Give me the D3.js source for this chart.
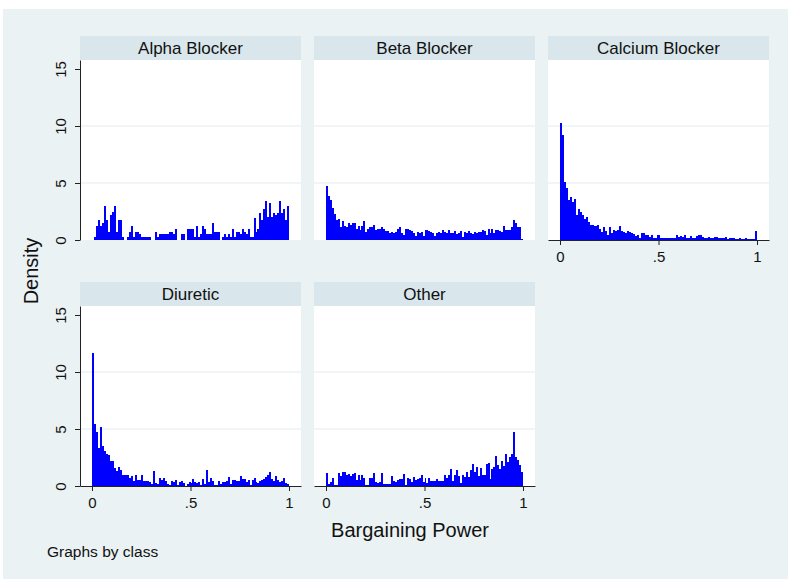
<!DOCTYPE html>
<html>
<head>
<meta charset="utf-8">
<script src="https://cdn.jsdelivr.net/npm/d3@7"></script>
<style>
  body { margin: 0; background: #fff; }
  svg text { font-family: "Liberation Sans", Arial, sans-serif; fill: #111; }
</style>
</head>
<body>
<svg id="chart" width="788" height="579"></svg>
<script>
// histogram densities, 100 bins of width .01 on [0,1]
var classes = ['Alpha Blocker', 'Beta Blocker', 'Calcium Blocker', 'Diuretic', 'Other'];

var alphaDensity = [0,
  0.25,1.2,1.75,1.2,1.5,3.0,1.75,0.7,2.2,2.5,3.0,0.7,1.75,1.75,0.25,
  0,0,
  0.25,0.7,1.2,0.3,0.7,0.7,0.5,0.25,0.25,0.25,0.25,0.25,
  0,0,
  0.7,0.25,0.5,0.5,0.5,0.5,0.5,0.7,0.7,0.5,0.95,
  0,0,
  0.5,0.5,
  0,
  0.95,0.95,0.95,0.95,
  0.25,1.2,0.25,0.5,1.2,0.95,0.5,0.5,0.5,1.45,0.7,0.7,0.7,
  0,
  0.3,0.5,0.25,0.5,0.25,0.95,0.25,0.7,0.7,0.5,0.95,0.7,0.5,0.95,0.25,0.25,
  1.95,0.7,1.0,2.4,1.75,2.7,3.4,2.0,3.25,2.0,2.4,2.2,2.4,3.4,2.4,2.7,1.75,2.95];

var betaDensity = [4.75,3.9,3.55,2.8,2.3,1.75,1.85,1.15,1.65,1.25,
  1.15,1.45,1.3,1.45,1.45,0.95,1.25,0.85,1.25,1.65,
  0.7,0.95,1.15,1.15,1.35,0.9,0.95,0.95,1.15,0.95,
  0.8,0.8,0.6,0.7,0.65,0.7,0.95,1.1,0.65,0.45,
  0.95,0.95,0.85,0.75,0.65,0.35,0.7,0.6,0.7,0.35,
  0.9,0.9,0.8,0.7,0.65,0.35,0.6,0.7,0.6,0.85,
  0.7,0.6,
  0.85,0.6,0.65,0.75,0.55,0.6,0.8,0.3,0.7,0.65,
  0.75,0.6,0.55,0.7,0.6,0.7,0.7,0.9,0.8,0.45,
  1.0,0.65,1.0,0.6,0.9,0.9,0.8,0.7,1.25,0.9,
  0.9,0.9,1.15,1.75,1.5,1.15,1.1,0.1];

var calciumDensity = [10.3,9.2,5.1,4.6,3.5,3.8,3.3,3.6,2.2,2.7,
  2.5,2.2,1.8,2.0,1.6,1.35,1.35,1.2,1.25,1.35,
  0.95,0.7,1.1,0.75,0.4,1.1,0.6,0.9,0.75,0.9,
  1.2,0.75,0.7,0.65,0.8,0.7,0.65,0.55,0.35,0.45,
  0.2,0.65,0.65,0.4,0.4,0.25,0.4,0.2,0.2,0.4,
  0.4,0.2,0.2,0.2,0.2,0.2,0.2,0.2,0.2,0.45,
  0.3,0.35,0.3,0.4,0.2,0.2,0.35,0.2,0.2,0.35,
  0.4,0.4,0.25,0.2,0.2,0.3,0.15,0.2,0.3,0.3,
  0.2,0.15,0.15,0.2,0.3,0.1,0.2,0.15,0.15,0.1,
  0.1,0.2,0.1,0.1,0.2,0.1,0.1,0.1,0.1,0.75];

var diureticDensity = [11.67,5.4,4.75,3.33,5.2,3.5,3.1,2.8,2.7,2.2,
  2.15,1.6,1.3,1.65,1.4,0.95,0.95,0.95,0.95,0.7,
  0.9,0.4,0.95,0.5,0.5,0.95,0.45,0.45,0.45,0.35,
  0.2,1.3,0.25,0.2,0.7,0.5,0.7,0.45,0.2,0.1,
  0.45,0.35,0.5,0.1,0.35,0.45,0.25,0,0.15,0.35,
  0.3,
  0.6,0.35,0.3,0.35,0.1,0.6,0.2,1.4,0.35,0.7,
  0.45,0.1,0.1,0.45,0.2,0.35,0.35,0.45,0.8,0.2,
  0.5,0.5,0.45,0.45,0.9,0.6,0.6,0.35,0.5,0.1,
  0.5,
  0.7,0.35,0.3,0.45,0.5,0.6,0.8,0.95,1.25,0.6,
  0.45,0.9,0.5,0.35,0.45,0.7,0.3,0.2];

var otherDensity = [1.15,0.15,0.35,0.7,0.1,0.1,1.15,0.9,1.2,1.2,
  0.95,1.05,0.9,1.05,1.15,0.5,0.95,0.5,0.95,0.7,
  0.1,0.1,0.7,0.7,1.15,0.35,0.25,0.35,1.15,0.2,
  0.2,0.2,0.2,0.9,0.45,0.35,0.5,0.6,0.6,1.05,
  0.1,0.7,0.6,0.35,0.75,0.5,0.6,0.7,0.95,0.35,0.7,
  0.3,0.7,0.4,0.45,0.45,0.6,0.45,0.45,0.45,0.95,
  0.7,0.95,1.5,0.45,0.95,1.4,0.9,0.25,1.0,0.8,
  1.2,0.8,1.4,1.95,1.2,1.65,0.9,1.6,0.95,0.95,
  1.95,2.0,0.6,1.5,1.65,2.6,1.85,1.5,2.2,1.75,
  2.8,2.1,2.55,2.8,4.7,2.55,2.3,1.8,1.2];

var densities = [alphaDensity, betaDensity, calciumDensity, diureticDensity, otherDensity];

var yTicks = [0, 5, 10, 15];
var yGrid = [5, 10];
var xTicks = [0, 0.5, 1];
var xTickLabels = ['0', '.5', '1'];
var binWidth = 0.01;

//panel layout: column, row, which axes are shown
var layout = [
  {col: 0, row: 0, yAxis: true,  xAxis: false},
  {col: 1, row: 0, yAxis: false, xAxis: false},
  {col: 2, row: 0, yAxis: false, xAxis: true},
  {col: 0, row: 1, yAxis: true,  xAxis: true},
  {col: 1, row: 1, yAxis: false, xAxis: true}
];

var colX = [80, 314, 548],
  rowY = [60, 306],
  plotW = 221,
  plotH = 180,
  headH = 24;

var bg = '#eaf2f3', headBg = '#d9e6eb', gridCol = '#e3ecef', barCol = '#0000ff', axisCol = '#222';

var svg = d3.select('#chart');

svg.append('rect')
  .attr('x', 3).attr('y', 9)
  .attr('width', 785).attr('height', 570)
  .attr('fill', bg);

var x = d3.scaleLinear().domain([-0.061, 1.061]).range([0, plotW]);
var y = d3.scaleLinear().domain([0, 15.79]).range([plotH, 0]);

classes.forEach(function(name, i) {
  var L = layout[i];
  var g = svg.append('g')
    .attr('transform', 'translate(' + colX[L.col] + ',' + rowY[L.row] + ')');

  g.append('rect')
    .attr('x', 0).attr('y', -headH)
    .attr('width', plotW).attr('height', headH)
    .attr('fill', headBg);

  g.append('text')
    .attr('x', plotW / 2).attr('y', -headH / 2)
    .attr('dy', '0.36em')
    .attr('text-anchor', 'middle')
    .style('font-size', '17px')
    .text(name);

  g.append('rect')
    .attr('width', plotW).attr('height', plotH)
    .attr('fill', '#fff');

  g.selectAll('line.grid').data(yGrid).enter().append('line')
    .attr('class', 'grid')
    .attr('x1', 0).attr('x2', plotW)
    .attr('y1', function(d) { return y(d); })
    .attr('y2', function(d) { return y(d); })
    .attr('stroke', gridCol)
    .attr('stroke-width', 1.2);

  var bins = densities[i].map(function(v, k) {
    return {x0: k * binWidth, x1: (k + 1) * binWidth, v: v};
  });

  g.append('g').selectAll('rect').data(bins.filter(function(d) { return d.v > 0; }))
    .enter().append('rect')
    .attr('x', function(d) { return x(d.x0); })
    .attr('width', function(d) { return x(d.x1) - x(d.x0); })
    .attr('y', function(d) { return y(d.v); })
    .attr('height', function(d) { return y(0) - y(d.v); })
    .attr('fill', barCol)
    .attr('shape-rendering', 'crispEdges');

  if (L.yAxis) {
    var ya = g.append('g')
      .call(d3.axisLeft(y).tickValues(yTicks).tickSize(5).tickSizeOuter(0));
    ya.select('.domain').attr('stroke', axisCol);
    ya.selectAll('.tick line').attr('stroke', axisCol);
    ya.selectAll('.tick text')
      .attr('x', 0).attr('dy', 0)
      .attr('text-anchor', 'middle')
      .attr('transform', 'translate(-14.5,0) rotate(-90)')
      .style('font-size', '15px')
      .style('font-family', '"Liberation Sans", Arial, sans-serif')
      .attr('fill', '#111');
  }

  if (L.xAxis) {
    var xa = g.append('g')
      .attr('transform', 'translate(0,' + plotH + ')')
      .call(d3.axisBottom(x).tickValues(xTicks).tickSize(5).tickSizeOuter(0).tickPadding(6.5)
        .tickFormat(function(d, k) { return xTickLabels[k]; }));
    xa.select('.domain').attr('stroke', axisCol);
    xa.selectAll('.tick line').attr('stroke', axisCol);
    xa.selectAll('.tick text')
      .style('font-size', '15px')
      .style('font-family', '"Liberation Sans", Arial, sans-serif')
      .attr('fill', '#111');
  }
});

svg.append('text')
  .attr('transform', 'translate(38,271) rotate(-90)')
  .attr('text-anchor', 'middle')
  .style('font-size', '20px')
  .text('Density');

svg.append('text')
  .attr('x', 410).attr('y', 537)
  .attr('text-anchor', 'middle')
  .style('font-size', '20px')
  .text('Bargaining Power');

svg.append('text')
  .attr('x', 47).attr('y', 557)
  .style('font-size', '15.5px')
  .text('Graphs by class');
</script>
</body>
</html>
